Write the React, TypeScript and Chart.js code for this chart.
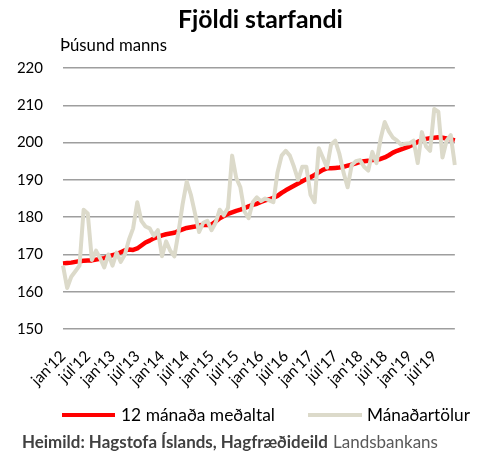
import React, { useEffect, useRef } from 'react';
import { Chart, registerables } from 'chart.js';

Chart.register(...registerables);

const monthNames = ['jan', 'feb', 'mar', 'apr', 'maí', 'jún', 'júl', 'ágú', 'sep', 'okt', 'nóv', 'des'];
const yearSuffixes = ['12', '13', '14', '15', '16', '17', '18', '19'];
const categories: string[] = yearSuffixes.flatMap((y) => monthNames.map((m) => `${m}'${y}`));

// 12 mánaða meðaltal (thousands)
const avg12 = [
  167.6, 167.7, 167.8, 168.0, 168.2, 168.3, 168.4, 168.4, 168.6, 168.8, 169.0, 169.4,
  169.8, 170.1, 170.6, 171.1, 171.3, 171.2, 171.6, 172.4, 173.2, 173.7, 174.3, 174.7,
  175.1, 175.4, 175.6, 175.8, 176.3, 176.7, 177.1, 177.3, 177.5, 177.8, 177.9, 177.9,
  178.0, 178.8, 179.7, 180.3, 180.9, 181.3, 181.7, 182.0, 182.4, 182.9, 183.3, 183.6,
  184.1, 184.5, 184.8, 185.2, 185.7, 186.5, 187.2, 187.8, 188.4, 189.0, 189.6, 190.2,
  190.7, 191.3, 192.0, 192.7, 193.1, 193.1, 193.2, 193.3, 193.5, 193.8, 194.1, 194.4,
  194.8, 195.0, 195.1, 195.3, 195.4, 195.6, 196.0, 196.6, 197.3, 197.8, 198.2, 198.6,
  199.0, 199.5, 200.2, 200.7, 201.0, 201.2, 201.3, 201.4, 201.3, 201.1, 200.9, 200.6,
];

// Mánaðartölur (thousands)
const monthly = [
  167.0, 161.0, 164.0, 165.5, 167.0, 182.0, 181.0, 168.5, 171.0, 169.0, 166.5, 170.0,
  167.0, 170.5, 168.0, 170.0, 174.0, 177.0, 184.0, 179.0, 177.5, 177.0, 175.0, 176.5,
  169.5, 173.5, 171.0, 169.5, 176.0, 183.5, 189.5, 186.0, 181.0, 176.0, 178.5, 179.0,
  176.5, 178.5, 182.0, 180.5, 182.5, 196.5, 190.5, 188.0, 181.5, 179.7, 184.0, 185.3,
  184.3, 185.0, 184.5, 184.0, 192.0, 196.5, 197.8, 196.5, 193.5, 190.0, 193.5, 193.5,
  186.0, 184.0, 198.5, 196.0, 193.3, 199.5, 200.5, 197.0, 192.0, 188.0, 194.0, 195.0,
  195.3, 193.5, 192.5, 197.5, 194.5, 201.0, 205.5, 203.0, 201.3, 200.5, 199.4, 199.7,
  199.8, 200.5, 194.5, 202.8, 199.0, 197.8, 209.0, 208.3, 196.0, 200.5, 202.0, 194.0,
];

const seriesNames = ['12 mánaða meðaltal', 'Mánaðartölur'];
const titleText = 'Fjöldi starfandi';
const unitText = 'Þúsund manns';
const sourceBold = 'Heimild: Hagstofa Íslands, Hagfræðideild';
const sourceNormal = 'Landsbankans';
const yMin = 150;
const yMax = 220;
const yStep = 10;

const FONT = 'Lato, "Open Sans", sans-serif';
const RED = '#FF0000';
const GRAY = '#DCDACA';

function fitSize(ctx: CanvasRenderingContext2D, text: string, weight: string, target: number) {
  ctx.font = `${weight} 100px ${FONT}`;
  const w = ctx.measureText(text).width;
  return (100 * target) / w;
}

const decorPlugin = {
  id: 'decor',
  afterDraw(chart: any) {
    const ctx: CanvasRenderingContext2D = chart.ctx;
    ctx.save();
    ctx.textBaseline = 'alphabetic';
    ctx.textAlign = 'left';

    // title
    let s = fitSize(ctx, titleText, 'bold', 165);
    ctx.font = `bold ${s}px ${FONT}`;
    ctx.fillStyle = '#000';
    ctx.fillText(titleText, 178, 28);

    // unit
    s = fitSize(ctx, unitText, 'normal', 107);
    ctx.font = `normal ${s}px ${FONT}`;
    ctx.fillText(unitText, 60, 51);

    // legend
    const ds = chart.data.datasets;
    const items = [
      { x0: 62, x1: 115, tx: 121, tw: 154, ds: ds[0] },
      { x0: 308, x1: 362, tx: 367, tw: 103, ds: ds[1] },
    ];
    const ly = 415;
    items.forEach((it) => {
      ctx.strokeStyle = it.ds.borderColor;
      ctx.lineWidth = 4;
      ctx.lineCap = 'butt';
      ctx.beginPath();
      ctx.moveTo(it.x0, ly);
      ctx.lineTo(it.x1, ly);
      ctx.stroke();
      const fs = fitSize(ctx, it.ds.label, 'normal', it.tw);
      ctx.font = `normal ${fs}px ${FONT}`;
      ctx.fillStyle = '#000';
      ctx.fillText(it.ds.label, it.tx, ly + 5.5);
    });

    // source
    s = fitSize(ctx, sourceBold, 'bold', 306);
    ctx.font = `bold ${s}px ${FONT}`;
    ctx.fillStyle = '#404040';
    ctx.fillText(sourceBold, 22, 448);
    s = fitSize(ctx, sourceNormal, 'normal', 105);
    ctx.font = `normal ${s}px ${FONT}`;
    ctx.fillStyle = '#595959';
    ctx.fillText(sourceNormal, 333, 448);

    ctx.restore();
  },
};

export default function App() {
  const ref = useRef<HTMLCanvasElement | null>(null);

  useEffect(() => {
    if (!ref.current) return;
    const chart = new Chart(ref.current, {
      type: 'line',
      data: {
        labels: categories,
        datasets: [
          {
            label: seriesNames[0],
            data: avg12,
            borderColor: RED,
            backgroundColor: RED,
            borderWidth: 4.5,
            pointRadius: 0,
            tension: 0,
            borderJoinStyle: 'round',
            order: 1,
          },
          {
            label: seriesNames[1],
            data: monthly,
            borderColor: GRAY,
            backgroundColor: GRAY,
            borderWidth: 4,
            pointRadius: 0,
            tension: 0,
            borderJoinStyle: 'round',
            order: 0,
          },
        ],
      },
      options: {
        responsive: false,
        animation: false,
        devicePixelRatio: 1,
        layout: { padding: { left: 0, right: 6, top: 68, bottom: 0 } },
        plugins: {
          legend: { display: false },
          title: { display: false },
          tooltip: { enabled: false },
        },
        scales: {
          x: {
            type: 'category',
            offset: false,
            grid: { display: false, drawTicks: false },
            border: { display: false },
            ticks: {
              autoSkip: false,
              maxRotation: 45,
              minRotation: 45,
              padding: 18,
              color: '#000',
              font: { family: FONT, size: 15.5 },
              callback: (_v: any, i: number) => (i % 6 === 0 ? categories[i] : ''),
            },
            afterFit: (scale: any) => {
              scale.height = 123;
            },
          },
          y: {
            min: yMin,
            max: yMax,
            grid: { color: '#9E9E9E', lineWidth: 1.5, drawTicks: false },
            border: { display: false },
            ticks: {
              stepSize: yStep,
              padding: 20,
              color: '#000',
              font: { family: FONT, size: 15 },
            },
            afterFit: (scale: any) => {
              scale.width = 63;
            },
          },
        },
      },
      plugins: [decorPlugin],
    });
    return () => chart.destroy();
  }, []);

  return (
    <div style={{ position: 'absolute', left: 0, top: 0, width: 486, height: 452, background: '#fff' }}>
      <canvas ref={ref} width={486} height={452} style={{ display: 'block', width: 486, height: 452 }} />
    </div>
  );
}
